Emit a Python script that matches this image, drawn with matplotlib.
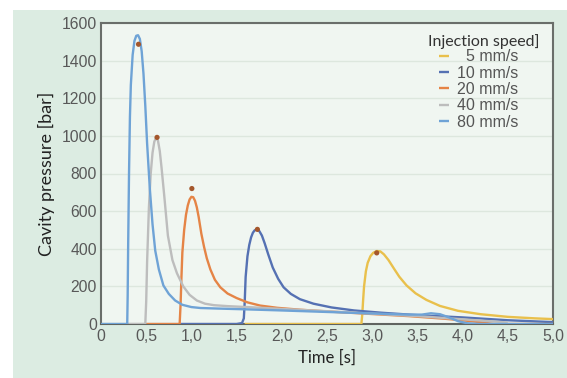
import matplotlib
matplotlib.use("Agg")
import matplotlib.pyplot as plt
from matplotlib.patches import Rectangle

# ---- data ----
labels = ["  5 mm/s", "10 mm/s", "20 mm/s", "40 mm/s", "80 mm/s"]
colors = ["#e9c04c", "#5571b3", "#e58446", "#bdbdbd", "#6fa3d6"]
legend_title = "Injection speed]"

t5 = [1.59, 2.88, 2.89, 2.90, 2.91, 2.93, 2.95, 2.98, 3.01, 3.05, 3.09, 3.13, 3.18, 3.24,
      3.30, 3.38, 3.48, 3.60, 3.75, 3.95, 4.2, 4.5, 4.8, 5.0]
p5 = [0, 0, 50, 130, 200, 280, 325, 360, 378, 388, 386, 370, 340, 295,
      251, 205, 163, 128, 96, 70, 52, 38, 30, 26]

t10 = [0.88, 1.50, 1.56, 1.58, 1.59, 1.60, 1.62, 1.64, 1.66, 1.68, 1.70, 1.725, 1.75, 1.78,
       1.81, 1.85, 1.90, 1.96, 2.02, 2.10, 2.20, 2.35, 2.55, 2.8, 3.1, 3.5, 4.0, 4.5, 5.0]
p10 = [0, 0, 5, 30, 120, 250, 360, 420, 460, 485, 498, 502, 495, 470,
       430, 370, 300, 240, 195, 160, 132, 108, 88, 72, 60, 47, 35, 20, 10]

t20 = [0.50, 0.87, 0.88, 0.89, 0.90, 0.92, 0.94, 0.96, 0.98, 1.00, 1.02, 1.04, 1.06, 1.08,
       1.11, 1.14, 1.17, 1.21, 1.26, 1.32, 1.40, 1.50, 1.62, 1.76, 1.95, 2.2, 2.6, 3.0, 3.4,
       3.8, 4.1, 4.35, 5.0]
p20 = [0, 0, 100, 250, 380, 500, 580, 630, 662, 676, 674, 655, 620, 570,
       480, 410, 350, 290, 235, 195, 162, 138, 115, 98, 86, 76, 64, 53, 42,
       28, 15, 0, 0]

t40 = [0.30, 0.49, 0.50, 0.51, 0.53, 0.55, 0.57, 0.59, 0.61, 0.63, 0.65, 0.67, 0.70, 0.74,
       0.79, 0.84, 0.91, 0.98, 1.06, 1.15, 1.25, 1.4, 1.7, 2.0, 2.5, 3.0, 3.5, 4.0, 4.5]
p40 = [0, 0, 120, 330, 620, 800, 910, 970, 990, 975, 920, 830, 680, 470,
       340, 270, 200, 155, 125, 108, 100, 95, 88, 80, 68, 55, 42, 25, 8]

t80 = [0, 0.29, 0.295, 0.30, 0.31, 0.32, 0.33, 0.35, 0.37, 0.39, 0.41, 0.43, 0.45, 0.47,
       0.49, 0.51, 0.54, 0.57, 0.60, 0.64, 0.69, 0.75, 0.82, 0.90, 1.0, 1.1, 1.3, 1.6, 2.0,
       2.5, 3.0, 3.4, 3.55, 3.65, 3.75, 3.85, 3.95, 4.05, 4.2, 5.0]
p80 = [0, 0, 150, 400, 800, 1100, 1270, 1430, 1505, 1532, 1535, 1515, 1450, 1330,
       1160, 960, 720, 530, 390, 290, 205, 160, 125, 102, 90, 85, 82, 78, 72,
       64, 56, 50, 50, 57, 52, 35, 15, 4, 0, 0]

peak_t = [0.415, 0.62, 1.005, 1.73, 3.05]
peak_p = [1487, 992, 720, 503, 378]

xticks = [0, 0.5, 1.0, 1.5, 2.0, 2.5, 3.0, 3.5, 4.0, 4.5, 5.0]
xticklabels = ["0", "0,5", "1,0", "1,5", "2,0", "2,5", "3,0", "3,5", "4,0", "4,5", "5,0"]
yticks = [0, 200, 400, 600, 800, 1000, 1200, 1400, 1600]

# ---- figure ----
W, H = 567, 378
fig = plt.figure(figsize=(W / 100, H / 100), dpi=100)
fig.patch.set_facecolor("white")
bg = Rectangle((13 / W, 0.0), 1 - 13 / W, 1 - 10 / H,
               transform=fig.transFigure, facecolor="#dcece2",
               edgecolor="none", zorder=-10)
fig.add_artist(bg)

ax = fig.add_axes([101 / W, 1 - 324 / H, (553 - 101) / W, (324 - 23) / H])
ax.set_zorder(1)
ax.set_facecolor("#f0f6f1")

series = [(t5, p5), (t10, p10), (t20, p20), (t40, p40), (t80, p80)]
handles = []
for (t, p), c, lab in zip(series, colors, labels):
    h, = ax.plot(t, p, color=c, lw=1.7, zorder=3, label=lab, solid_capstyle="butt")
    handles.append(h)

ax.scatter(peak_t, peak_p, s=14, color="#a4572c", zorder=5, edgecolors="none")

ax.set_xlim(0, 5.0)
ax.set_ylim(0, 1600)
ax.set_xticks(xticks)
ax.set_xticklabels(xticklabels)
ax.set_yticks(yticks)
ax.tick_params(length=0, labelsize=11.3, labelcolor="#585858")
ax.tick_params(axis="y", pad=3)
ax.tick_params(axis="x", pad=3.5)
for lbl in ax.get_xticklabels() + ax.get_yticklabels():
    lbl.set_family("Liberation Sans")

ax.grid(axis="y", color="#dde7de", lw=1.0)
ax.set_axisbelow(True)

for s in ["left", "top", "right"]:
    ax.spines[s].set_color("#6a6e6a")
    ax.spines[s].set_linewidth(1.5)
ax.spines["bottom"].set_color("#606460")
ax.spines["bottom"].set_linewidth(1.5)

ax.set_ylabel("Cavity pressure [bar]", family="Lato", fontsize=13, color="#222222", labelpad=5)
ax.set_xlabel("Time [s]", family="Lato", fontsize=12, color="#222222", labelpad=4)

leg = ax.legend(handles=handles, loc="center left", bbox_to_anchor=(439 / W, 1 - 89.5 / H),
                bbox_transform=fig.transFigure, frameon=False,
                prop={"family": "Liberation Sans", "size": 11.5},
                handlelength=0.65, handletextpad=0.5, labelspacing=0.08,
                borderpad=0, borderaxespad=0)
for txt in leg.get_texts():
    txt.set_color("#555555")
for lh in leg.get_lines():
    lh.set_linewidth(1.7)

fig.text(428 / W, 1 - 42 / H, legend_title, family="Lato", fontsize=11.5,
         color="#333333", ha="left", va="center", zorder=5)

fig.savefig("out.png", dpi=100, facecolor=fig.get_facecolor())
